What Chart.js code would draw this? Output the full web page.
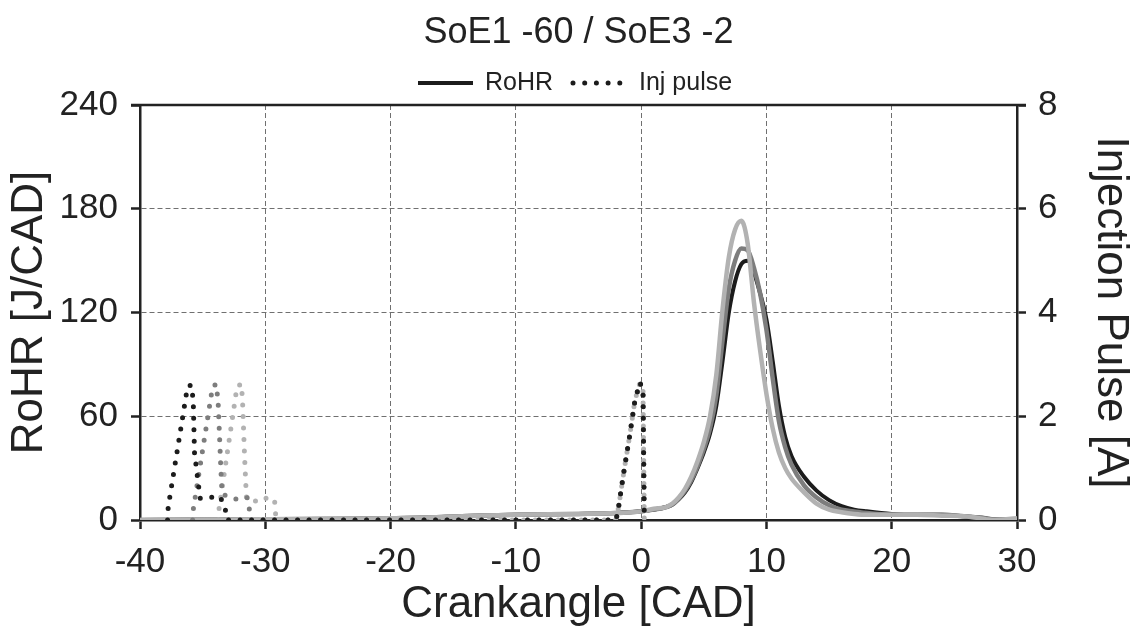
<!DOCTYPE html>
<html>
<head>
<meta charset="utf-8">
<script src="https://cdn.jsdelivr.net/npm/chart.js@4.4.1/dist/chart.umd.min.js"></script>
<style>
html,body{margin:0;padding:0;background:#fff;}
#wrap{width:1137px;height:643px;position:relative;}
</style>
</head>
<body>
<div id="wrap"><canvas id="chart"></canvas></div>
<script>
// ===================== DATA =====================
const chartTitle='SoE1 -60 / SoE3 -2';
const xTicks=[-40,-30,-20,-10,0,10,20,30];
const yTicks=[0,60,120,180,240];
const y2Ticks=[0,2,4,6,8];

// RoHR [J/CAD] vs crank angle
const cad=[-40,-30,-20,-10,-5,-2,0,1,2,2.5,3,3.5,4,4.5,5,5.5,6,6.5,7,7.5,8,8.5,9,9.5,10,10.5,11,11.5,12,13,14,15,16,17,18,20,22,24,26,27.5,28,30];
const rohrBlack=[0,0.5,1,3,3.5,4,5,6,7.5,9,12,16,22,30,39,50,66,92,120,138,148,150,143,131,116,92,66,48,37,25,17,11.5,8,6,5,3.5,3,3,2,1,0.5,0.5];
const rohrDark=[0,0.5,1,3,3.5,4,5,6,7.5,9,12.5,17,23,31,41,53,72,104,134,150,157,156,146,131,110,82,57,42,32,20,13,8.5,6,5,4,3,3,3,2,1,0.5,0.5];
const rohrLight=[0,0.5,1,3,3.5,4,5,6.5,7.5,9.5,13,18,25,34,45,60,84,122,152,168,173,160,126,98,73,53,39,30,24,16,9.5,6,4.5,3.5,3,3,3,2.5,2,0.5,0,1];

// injection pulse [A]
const injBlackX=[-37.8,-37.75,-36.2,-35.9,-35.75,-35.65,-35.4,-35.2,-33.6,-33.2,-33.05,-2.0,-1.8,-1.4,-0.9,-0.5,-0.1,0.15,0.25];
const injBlackY=[0,0.25,2.58,2.6,2.3,1.3,0.8,0.42,0.45,0.22,0,0,0.25,0.9,1.65,2.3,2.65,2.5,0];
const injDarkX=[-35.8,-35.75,-34.2,-33.9,-33.75,-33.55,-33.45,-32.3,-31.45,-31.3,-31.15,-2.0,-1.8,-1.4,-0.9,-0.5,-0.1,0.15,0.25];
const injDarkY=[0,0.2,2.58,2.62,2.2,1.0,0.5,0.4,0.43,0.25,0,0,0.25,0.9,1.65,2.3,2.65,2.5,0];
const injLightX=[-33.75,-33.7,-32.25,-31.9,-31.8,-31.65,-31.5,-30.5,-29.7,-29.25,-29.2,-29.05,-2.0,-1.8,-1.4,-0.9,-0.5,-0.1,0.15,0.25];
const injLightY=[0,0.2,2.58,2.62,2.2,1.2,0.4,0.35,0.45,0.35,0.14,0,0,0.25,0.9,1.65,2.3,2.65,2.5,0];

// ===================== STYLE =====================
const FONT='"Liberation Sans", Arial, Helvetica, sans-serif';
const INK='#222';
const C_BLACK='#1c1c1c', C_DARK='#7d7d7d', C_LIGHT='#b2b2b2';

const pts=(xs,ys)=>xs.map((x,i)=>({x,y:ys[i]}));

function rohrSet(label,ys,color,w){
  return {label,data:pts(cad,ys),yAxisID:'y',borderColor:color,borderWidth:w,
    pointRadius:0,cubicInterpolationMode:'monotone',fill:false};
}
function injSet(label,xs,ys,color){
  return {label,data:pts(xs,ys),yAxisID:'y2',borderColor:color,borderWidth:5,
    borderDash:[0,11.5],borderCapStyle:'round',pointRadius:0,tension:0,fill:false};
}

// title, legend and top frame line drawn by hand
const decor={
  id:'decor',
  beforeDatasetsDraw(chart){
    const {ctx,chartArea:a}=chart;
    ctx.save();
    ctx.strokeStyle=INK;ctx.lineWidth=2.5;
    ctx.beginPath();ctx.moveTo(a.left-9,a.top);ctx.lineTo(a.right+9,a.top);ctx.stroke();
    ctx.restore();
  },
  afterDraw(chart){
    const {ctx,chartArea:a}=chart;
    const cx=(a.left+a.right)/2;
    ctx.save();
    ctx.fillStyle=INK;ctx.textBaseline='middle';ctx.textAlign='center';
    ctx.font='36px '+FONT;
    ctx.fillText(chartTitle,cx,33);
    // legend
    const ly=83;
    ctx.strokeStyle=C_BLACK;ctx.lineWidth=4;
    ctx.beginPath();ctx.moveTo(418,ly);ctx.lineTo(473,ly);ctx.stroke();
    ctx.font='25px '+FONT;ctx.textAlign='left';
    ctx.fillText('RoHR',485,ly);
    ctx.lineWidth=5;ctx.lineCap='round';ctx.setLineDash([0,11.7]);
    ctx.beginPath();ctx.moveTo(573,ly);ctx.lineTo(622,ly);ctx.stroke();
    ctx.setLineDash([]);
    ctx.fillText('Inj pulse',639,ly);
    ctx.restore();
  }
};

const tickFont={family:FONT,size:35};
const titleFont={family:FONT,size:44};

new Chart(document.getElementById('chart').getContext('2d'),{
  type:'line',
  data:{datasets:[
    injSet('Inj pulse 1',injBlackX,injBlackY,C_BLACK),
    injSet('Inj pulse 2',injDarkX,injDarkY,C_DARK),
    injSet('Inj pulse 3',injLightX,injLightY,C_LIGHT),
    rohrSet('RoHR 3',rohrLight,C_LIGHT,4.5),
    rohrSet('RoHR 2',rohrDark,C_DARK,4.5),
    rohrSet('RoHR 1',rohrBlack,C_BLACK,4),
  ]},
  options:{
    responsive:true,maintainAspectRatio:false,animation:false,
    layout:{padding:{top:105,left:0,right:0,bottom:0}},
    plugins:{legend:{display:false},title:{display:false},tooltip:{enabled:false}},
    scales:{
      x:{type:'linear',min:xTicks[0],max:xTicks[xTicks.length-1],
        afterBuildTicks:s=>{s.ticks=xTicks.map(v=>({value:v}))},
        ticks:{color:INK,font:tickFont,padding:12,maxRotation:0},
        grid:{color:'#707070',lineWidth:1,tickLength:9,tickColor:INK,tickWidth:2.5},
        border:{color:INK,width:2.5,dash:[5,3]},
        title:{display:true,text:'Crankangle [CAD]',color:INK,font:titleFont,padding:{top:0,bottom:12}},
        afterFit:s=>{s.height=123}},
      y:{position:'left',min:yTicks[0],max:yTicks[yTicks.length-1],
        afterBuildTicks:s=>{s.ticks=yTicks.map(v=>({value:v}))},
        ticks:{color:INK,font:tickFont,padding:13},
        grid:{color:'#707070',lineWidth:1,tickLength:9,tickColor:INK,tickWidth:2.5},
        border:{color:INK,width:2.5,dash:[5,3]},
        title:{display:true,text:'RoHR [J/CAD]',color:INK,font:titleFont,padding:{top:3,bottom:0}},
        afterFit:s=>{s.width=140}},
      y2:{position:'right',min:y2Ticks[0],max:y2Ticks[y2Ticks.length-1],
        afterBuildTicks:s=>{s.ticks=y2Ticks.map(v=>({value:v}))},
        ticks:{color:INK,font:tickFont,padding:12},
        grid:{drawOnChartArea:false,tickLength:9,tickColor:INK,tickWidth:2.5},
        border:{color:INK,width:2.5},
        title:{display:true,text:'Injection Pulse [A]',color:INK,font:titleFont,padding:{top:0,bottom:0}},
        afterFit:s=>{s.width=120}}
    }
  },
  plugins:[decor]
});
</script>
</body>
</html>
